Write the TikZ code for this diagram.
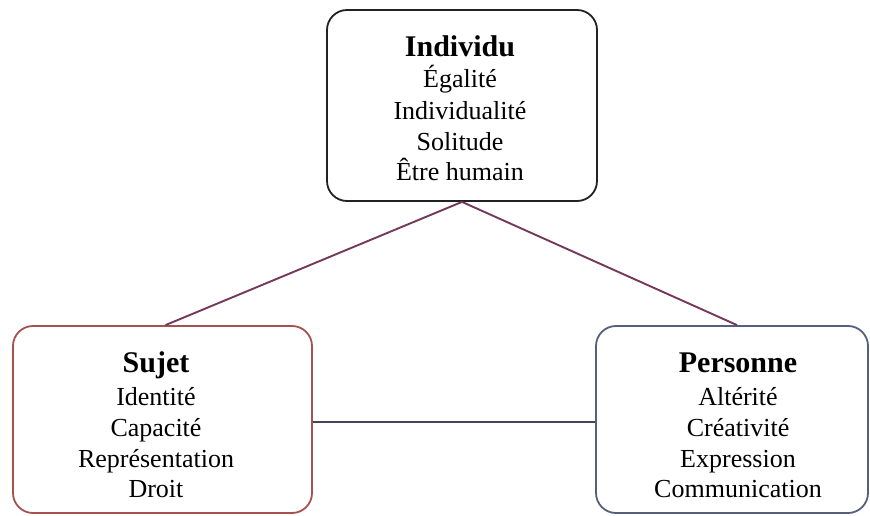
\documentclass[tikz,border=0pt]{standalone}
\usepackage{fontspec}
\setmainfont{Liberation Serif}
\definecolor{linkc}{HTML}{74385A}
\definecolor{midc}{HTML}{4C4258}
\definecolor{sujetc}{HTML}{A4524E}
\definecolor{persc}{HTML}{56607E}
\definecolor{indc}{HTML}{222222}
\begin{document}
\begin{tikzpicture}[x=1pt,y=-1pt,
  card/.style={draw, rounded corners=20pt, line width=1.8pt, fill=white, inner sep=0pt},
  head/.style={anchor=base, font=\fontsize{30}{36}\selectfont\bfseries, inner sep=0pt},
  item/.style={anchor=base, font=\fontsize{26}{31}\selectfont, inner sep=0pt},
  link/.style={line width=1.9pt}]
\useasboundingbox (0,0) rectangle (870,516);

% the three concept cards
\node[card, draw=indc, minimum width=270pt, minimum height=191pt] (individu) at (462,105.5) {};
\node[card, draw=sujetc, minimum width=299pt, minimum height=187pt] (sujet) at (162.5,419.5) {};
\node[card, draw=persc, minimum width=272pt, minimum height=187pt] (personne) at (732,419.5) {};

% connectors between the cards
\draw[link, draw=linkc] (individu.south) -- ([xshift=3pt]sujet.north);
\draw[link, draw=linkc] (individu.south) -- ([xshift=5pt]personne.north);
\draw[link, draw=midc] ([yshift=-2.5pt]sujet.east) -- ([yshift=-2.5pt]personne.west);

% Individu
\node[head] (ind-t) at (460,57) {Individu};
\node[item] (ind-1) at (460,88) {Égalité};
\node[item] (ind-2) at (460,120) {Individualité};
\node[item] (ind-3) at (460,150) {Solitude};
\node[item] (ind-4) at (460,180) {Être humain};

% Sujet
\node[head] (suj-t) at (156,372) {Sujet};
\node[item] (suj-1) at (156,405) {Identité};
\node[item] (suj-2) at (156,436) {Capacité};
\node[item] (suj-3) at (156,467) {Représentation};
\node[item] (suj-4) at (156,497) {Droit};

% Personne
\node[head] (per-t) at (738,372) {Personne};
\node[item] (per-1) at (738,405) {Altérité};
\node[item] (per-2) at (738,436) {Créativité};
\node[item] (per-3) at (738,467) {Expression};
\node[item] (per-4) at (738,497) {Communication};
\end{tikzpicture}
\end{document}
